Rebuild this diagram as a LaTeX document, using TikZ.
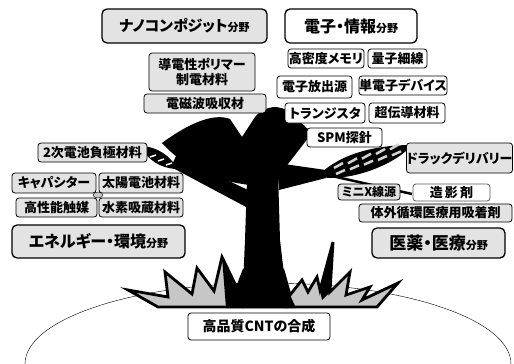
\documentclass[tikz,border=0pt]{standalone}
\usepackage{fontspec}
\newfontfamily\jpfont[RawFeature=+palt]{Noto Sans CJK JP}
\newcommand{\bunya}{{\fontsize{11}{13}\selectfont 分野}}

\begin{document}
\begin{tikzpicture}[x=1pt, y=-1pt,
  tag/.style={draw, rounded corners=3pt, line width=0.8pt, inner sep=0pt,
    align=center, font=\jpfont\bfseries\fontsize{13}{15}\selectfont},
  graytag/.style={tag, fill=gray!22},
  whitetag/.style={tag, fill=white},
  fieldtag/.style={line width=1.3pt, rounded corners=5pt,
    font=\jpfont\bfseries\fontsize{16}{18}\selectfont},
]

  \fill[white] (0,0) rectangle (514,364);
  \useasboundingbox (0,0) rectangle (514,364);

  % ────────────────────────────────────────────────────────────────────
  % ground line and grass
  % ────────────────────────────────────────────────────────────────────
  \draw[thin] (25,364) .. controls (25,319) and (134,283) .. (268,283)
    .. controls (402,283) and (511,319) .. (511,364);

  \filldraw[fill=gray!45, draw=black, line width=2.8pt, line join=miter, miter limit=6]
    (158,307) -- (128,290) -- (168,297) -- (165,272) -- (192,294) -- (197,268)
    -- (214,291) -- (222,257) -- (237,288) -- (244,270) -- (283,270) -- (290,295)
    -- (302,280) -- (308,292) -- (317,277) -- (320,290) -- (333,242) -- (330,292)
    -- (350,272) -- (346,295) -- (370,287) -- (362,300) -- (398,283) -- (377,307)
    -- cycle;
  \fill (222,257) -- (237,288) -- (244,270) -- (244,308) -- (226,308) -- cycle;
  \fill (283,270) -- (290,295) -- (296,308) -- (283,308) -- cycle;
  \fill (333,242) -- (330,292) -- (322,300) -- (320,290) -- cycle;

  % ────────────────────────────────────────────────────────────────────
  % trunk, crown and branches
  % ────────────────────────────────────────────────────────────────────
  \fill (247,180) -- (278,172) -- (280,240) -- (288,308) -- (242,308)
    -- (245,240) -- cycle;

  \fill (250,185) .. controls (222,182) and (186,170) .. (162,143)
    .. controls (185,126) and (212,112) .. (230,119)
    -- (242,137) -- (255,117)
    .. controls (264,106) and (280,103) .. (292,114)
    -- (312,133) -- (278,177) -- cycle;

  % left branch with its leaf
  \fill (248,190) -- (176,156) -- (171,167) -- (248,208) -- cycle;
  \fill (176,166) .. controls (165,150) and (150,146) .. (140,146)
    .. controls (148,160) and (160,168) .. (176,169) -- cycle;
  \foreach \x in {150,158,166}
    \draw[white, line width=1.5pt] (\x,{152+(\x-140)*0.5}) -- (\x+6,{150+(\x-140)*0.5});
  \filldraw[fill=gray!45, draw=black, thin] (98,195) ellipse (5 and 3);

  % right branch with its leaf
  \fill (277,163) -- (326,170) -- (326,178) -- (279,190) -- cycle;
  \draw[line width=2.5pt] (332,176) -- (412,194);
  \fill (320,174) .. controls (345,150) and (385,145) .. (412,145)
    .. controls (395,165) and (350,182) .. (320,177) -- cycle;
  \foreach \x in {334,348,362,376,390}{
    \draw[gray!35, line width=2.5pt] (\x,{175-(\x-322)/3-3}) -- (\x+9,{175-(\x-322)/3-8});
    \draw[gray!35, line width=2.5pt] (\x+2,{175-(\x-322)/3+3}) -- (\x+11,{175-(\x-322)/3-1});
  }

  % ────────────────────────────────────────────────────────────────────
  % nanocomposites
  % ────────────────────────────────────────────────────────────────────
  \node[graytag, fieldtag, minimum width=165, minimum height=34, font=\jpfont\bfseries\fontsize{15}{18}\selectfont]
    (nano) at (184.5,26) {ナノコンポジット\bunya};
  \node[graytag, minimum width=106, minimum height=38] (polymer) at (202,72)
    {導電性ポリマー\\制電材料};
  \node[graytag, minimum width=122, minimum height=19] (emwave) at (205,103.5) {電磁波吸収材};

  % ────────────────────────────────────────────────────────────────────
  % electronics and information
  % ────────────────────────────────────────────────────────────────────
  \node[whitetag, fieldtag, minimum width=132, minimum height=34] (elec) at (351,26) {電子・情報\bunya};
  \node[whitetag, minimum width=76, minimum height=19] (memory)   at (326,58.5)  {高密度メモリ};
  \node[whitetag, minimum width=59, minimum height=19] (wire)     at (397.5,58.5) {量子細線};
  \node[whitetag, minimum width=75, minimum height=22] (emitter)  at (314.5,87)  {電子放出源};
  \node[whitetag, minimum width=88, minimum height=19] (set)      at (403,85.5)  {単電子デバイス};
  \node[whitetag, minimum width=80, minimum height=20] (fet)      at (325,113)   {トランジスタ};
  \node[whitetag, minimum width=76, minimum height=20] (supercon) at (407,113)   {超伝導材料};
  \node[whitetag, minimum width=75, minimum height=19] (spm)      at (344.5,137.5) {SPM探針};

  % ────────────────────────────────────────────────────────────────────
  % medicine
  % ────────────────────────────────────────────────────────────────────
  \node[graytag, minimum width=105, minimum height=30] (drug)    at (459.5,158) {ドラックデリバリー};
  \node[graytag, minimum width=62, minimum height=16, font=\jpfont\bfseries\fontsize{12}{14}\selectfont]
    (xray) at (369,192) {ミニX線源};
  \node[whitetag, draw=gray!70!black, minimum width=77, minimum height=17] (contrast) at (451.5,192.5) {造\,影\,剤};
  \node[graytag, minimum width=153, minimum height=18] (sorbent) at (435.5,213) {体外循環医療用吸着剤};
  \node[graytag, fieldtag, minimum width=133, minimum height=30, font=\jpfont\bfseries\fontsize{17}{19}\selectfont]
    (medical) at (438.5,243) {医薬・医療\bunya};

  % ────────────────────────────────────────────────────────────────────
  % energy and environment
  % ────────────────────────────────────────────────────────────────────
  \node[graytag, minimum width=109, minimum height=19] (anode)    at (92.5,152.5) {2次電池負極材料};
  \node[graytag, minimum width=84, minimum height=20]  (cap)      at (54,183)     {キャパシター};
  \node[graytag, minimum width=84, minimum height=20]  (solar)    at (141,183)    {太陽電池材料};
  \node[graytag, minimum width=81, minimum height=19]  (catalyst) at (56.5,207.5)  {高性能触媒};
  \node[graytag, minimum width=84, minimum height=19]  (hydrogen) at (141,207.5)   {水素吸蔵材料};
  \node[graytag, fieldtag, minimum width=173, minimum height=33] (energy) at (98.5,241.5)
    {エネルギー・環境\bunya};

  % ────────────────────────────────────────────────────────────────────
  % root
  % ────────────────────────────────────────────────────────────────────
  \node[whitetag, minimum width=142, minimum height=27, font=\jpfont\bfseries\fontsize{14}{16}\selectfont]
    (cnt) at (259,326.5) {高品質CNTの合成};

\end{tikzpicture}
\end{document}
